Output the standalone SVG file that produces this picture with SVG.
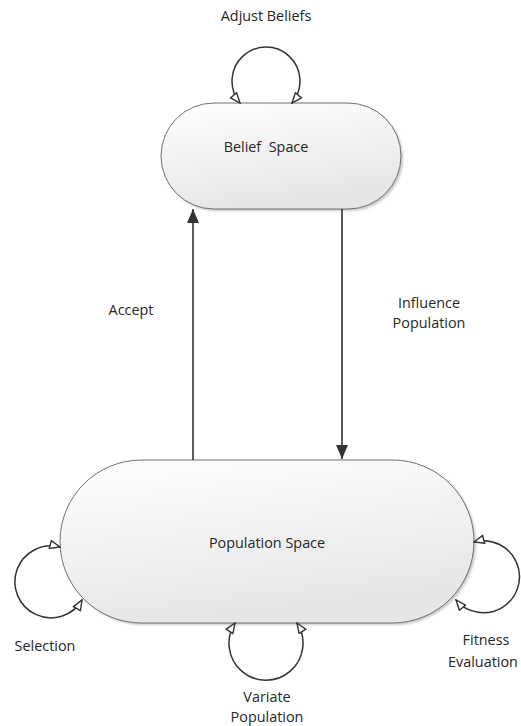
<svg xmlns="http://www.w3.org/2000/svg" width="521" height="726" viewBox="0 0 521 726">
<defs>
<linearGradient id="g" x1="0" y1="0" x2="0.3" y2="1">
<stop offset="0" stop-color="#ffffff"/>
<stop offset="1" stop-color="#e6e6e6"/>
</linearGradient>
<filter id="sh" x="-10%" y="-10%" width="120%" height="130%">
<feGaussianBlur stdDeviation="1.2"/>
</filter>
<marker id="fill" viewBox="0 0 14 12" refX="14" refY="6" markerWidth="14" markerHeight="12" markerUnits="userSpaceOnUse" orient="auto">
<path d="M0,0 L14,6 L0,12 Z" fill="#333"/>
</marker>
<marker id="open" viewBox="0 0 12 10" refX="11" refY="5" markerWidth="12" markerHeight="10" markerUnits="userSpaceOnUse" orient="auto-start-reverse">
<path d="M1,1 L11,5 L1,9 Z" fill="#fff" stroke="#333" stroke-width="1.4" stroke-linejoin="miter"/>
</marker>
</defs>
<style>
.node{fill:url(#g);stroke:#707070;stroke-width:1}
.shadow{fill:#c8c8c8;filter:url(#sh)}
.t{font-family:"Open Sans","Liberation Sans",sans-serif;font-size:14.4px;fill:#262626;text-anchor:middle;white-space:pre}
.c{fill:none;stroke:#333;stroke-width:1.6}
.loop{fill:none;stroke:#333;stroke-width:1.5;marker-start:url(#open);marker-end:url(#open)}
</style>

<g id="belief-space">
<rect class="shadow" x="163" y="105" width="240" height="106" rx="53"/>
<rect class="node" x="161" y="103" width="240" height="106" rx="53"/>
<text class="t" x="266" y="152" xml:space="preserve">Belief  Space</text>
</g>

<g id="population-space">
<rect class="shadow" x="62" y="462" width="414" height="163" rx="81.5"/>
<rect class="node" x="60" y="460" width="414" height="163" rx="81.5"/>
<text class="t" x="267" y="548">Population Space</text>
</g>

<g id="connectors">
<line class="c" x1="193" y1="460" x2="193" y2="209" marker-end="url(#fill)"/>
<line class="c" x1="342" y1="209" x2="342" y2="459" marker-end="url(#fill)"/>
<path class="loop" d="M240,103 A34,34 0 1 1 292,103"/>
<path class="loop" d="M60,547 A36,36 0 1 0 82,600"/>
<path class="loop" d="M235,623 A37,37 0 1 0 297,623"/>
<path class="loop" d="M474,542 A36,36 0 1 1 456,600"/>
</g>

<g id="labels">
<text class="t" x="266" y="21">Adjust Beliefs</text>
<text class="t" x="131" y="315">Accept</text>
<text class="t" x="429" y="308">Influence</text>
<text class="t" x="429" y="328">Population</text>
<text class="t" x="45" y="651">Selection</text>
<text class="t" x="267" y="702">Variate</text>
<text class="t" x="267" y="722">Population</text>
<text class="t" x="486" y="645">Fitness</text>
<text class="t" x="483" y="667">Evaluation</text>
</g>
</svg>
